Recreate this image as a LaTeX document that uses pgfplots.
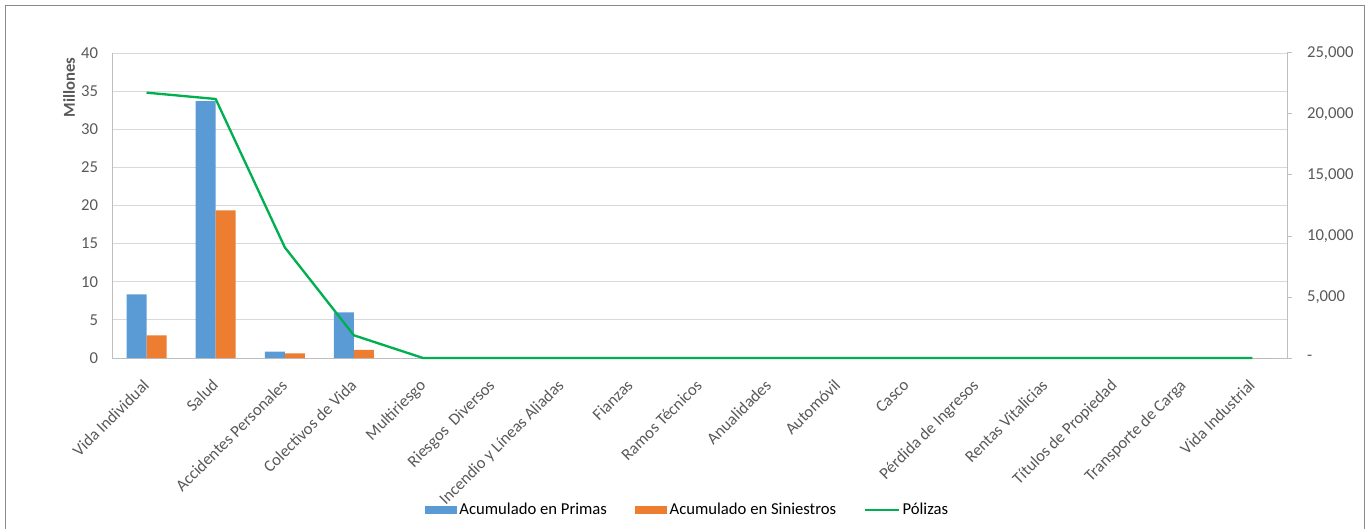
\documentclass[border=0pt]{standalone}
\usepackage{fontspec}
\setmainfont{Carlito}
\usepackage{pgfplots}
\pgfplotsset{compat=1.18}
\definecolor{cblue}{HTML}{5B9BD5}
\definecolor{corange}{HTML}{ED7D31}
\definecolor{cgreen}{HTML}{00B050}
\definecolor{cgrid}{HTML}{D9D9D9}
\definecolor{caxis}{HTML}{BFBFBF}
\definecolor{ctext}{HTML}{595959}
\definecolor{cframe}{HTML}{898989}
\begin{document}
\begin{tikzpicture}[x=1pt,y=1pt]
\path[use as bounding box] (0,0) rectangle (1024.5,396.75);
\draw[cframe, line width=0.75pt] (4.125,0) -- (4.125,392.6) -- (1023,392.6) -- (1023,0);
\node[rotate=90, font=\fontsize{12.5}{15}\selectfont\bfseries, text=ctext] at (51.75,331.1) {Millones};
\begin{axis}[
 at={(84pt,128.25pt)}, anchor=south west, scale only axis,
 width=881.25pt, height=228.75pt,
 xmin=-0.5, xmax=16.5, ymin=0, ymax=40,
 ytick={0,5,...,40},
 xtick={0,...,16},
 xticklabels={Vida Individual, Salud, Accidentes Personales, Colectivos de Vida, Multiriesgo, Riesgos\ \ Diversos, Incendio y Líneas Aliadas, Fianzas, Ramos Técnicos, Anualidades, Automóvil, Casco, Pérdida de Ingresos, Rentas Vitalicias, Títulos de Propiedad, Transporte de Carga, Vida Industrial},
 axis x line*=bottom, axis y line*=left,
 axis line style={caxis, line width=0.75pt, -},
 major tick length=0pt,
 ymajorgrids, grid style={cgrid, line width=0.75pt},
 /pgf/number format/assume math mode=true,
 tick label style={font=\fontsize{12.5}{15}\selectfont, text=ctext},
 yticklabel style={xshift=-7pt},
 x tick label style={xshift=-3.5pt, yshift=-15pt, rotate=45, anchor=north east, inner sep=0pt},
 legend style={at={(0.49,-0.498)}, anchor=center, draw=none, fill=none,
   font=\fontsize{12.5}{15}\selectfont, /tikz/every even column/.append style={column sep=19pt}},
 legend columns=3, legend cell align=left,
]
\addplot[ybar, bar width=15pt, fill=cblue, draw=none, bar shift=-7.5pt,
  legend image code/.code={\fill[cblue] (0pt,-2.8pt) rectangle (24pt,2.8pt);}]
 coordinates {(0,8.35) (1,33.7) (2,0.83) (3,6.0) (4,0) (5,0) (6,0) (7,0) (8,0) (9,0) (10,0) (11,0) (12,0) (13,0) (14,0) (15,0) (16,0)};
\addlegendentry{Acumulado en Primas}
\addplot[ybar, bar width=15pt, fill=corange, draw=none, bar shift=7.5pt,
  legend image code/.code={\fill[corange] (0pt,-2.8pt) rectangle (24pt,2.8pt);}]
 coordinates {(0,2.97) (1,19.35) (2,0.6) (3,1.05) (4,0) (5,0) (6,0) (7,0) (8,0) (9,0) (10,0) (11,0) (12,0) (13,0) (14,0) (15,0) (16,0)};
\addlegendentry{Acumulado en Siniestros}
\addlegendimage{legend image code/.code={\draw[cgreen, line width=1.75pt] (0pt,0pt) -- (25pt,0pt);}}
\addlegendentry{Pólizas}
\end{axis}
\begin{axis}[
 at={(84pt,128.25pt)}, anchor=south west, scale only axis,
 width=881.25pt, height=228.75pt,
 xmin=-0.5, xmax=16.5, ymin=0, ymax=25000,
 axis x line=none, axis y line*=right,
 axis line style={caxis, line width=0.75pt, -},
 ytick={0,5000,10000,15000,20000,25000},
 yticklabels={-, {5,000}, {10,000}, {15,000}, {20,000}, {25,000}},
 scaled y ticks=false,
 tick align=outside, major tick length=3.5pt,
 tick style={caxis, line width=0.75pt},
 /pgf/number format/assume math mode=true,
 tick label style={font=\fontsize{12.5}{15}\selectfont, text=ctext},
 yticklabel style={xshift=8pt},
 clip=false,
]
\addplot[cgreen, line width=1.75pt, mark=none]
 coordinates {(0,21750) (1,21230) (2,9070) (3,1860) (4,0) (5,0) (6,0) (7,0) (8,0) (9,0) (10,0) (11,0) (12,0) (13,0) (14,0) (15,0) (16,0)};
\end{axis}
\end{tikzpicture}
\end{document}
